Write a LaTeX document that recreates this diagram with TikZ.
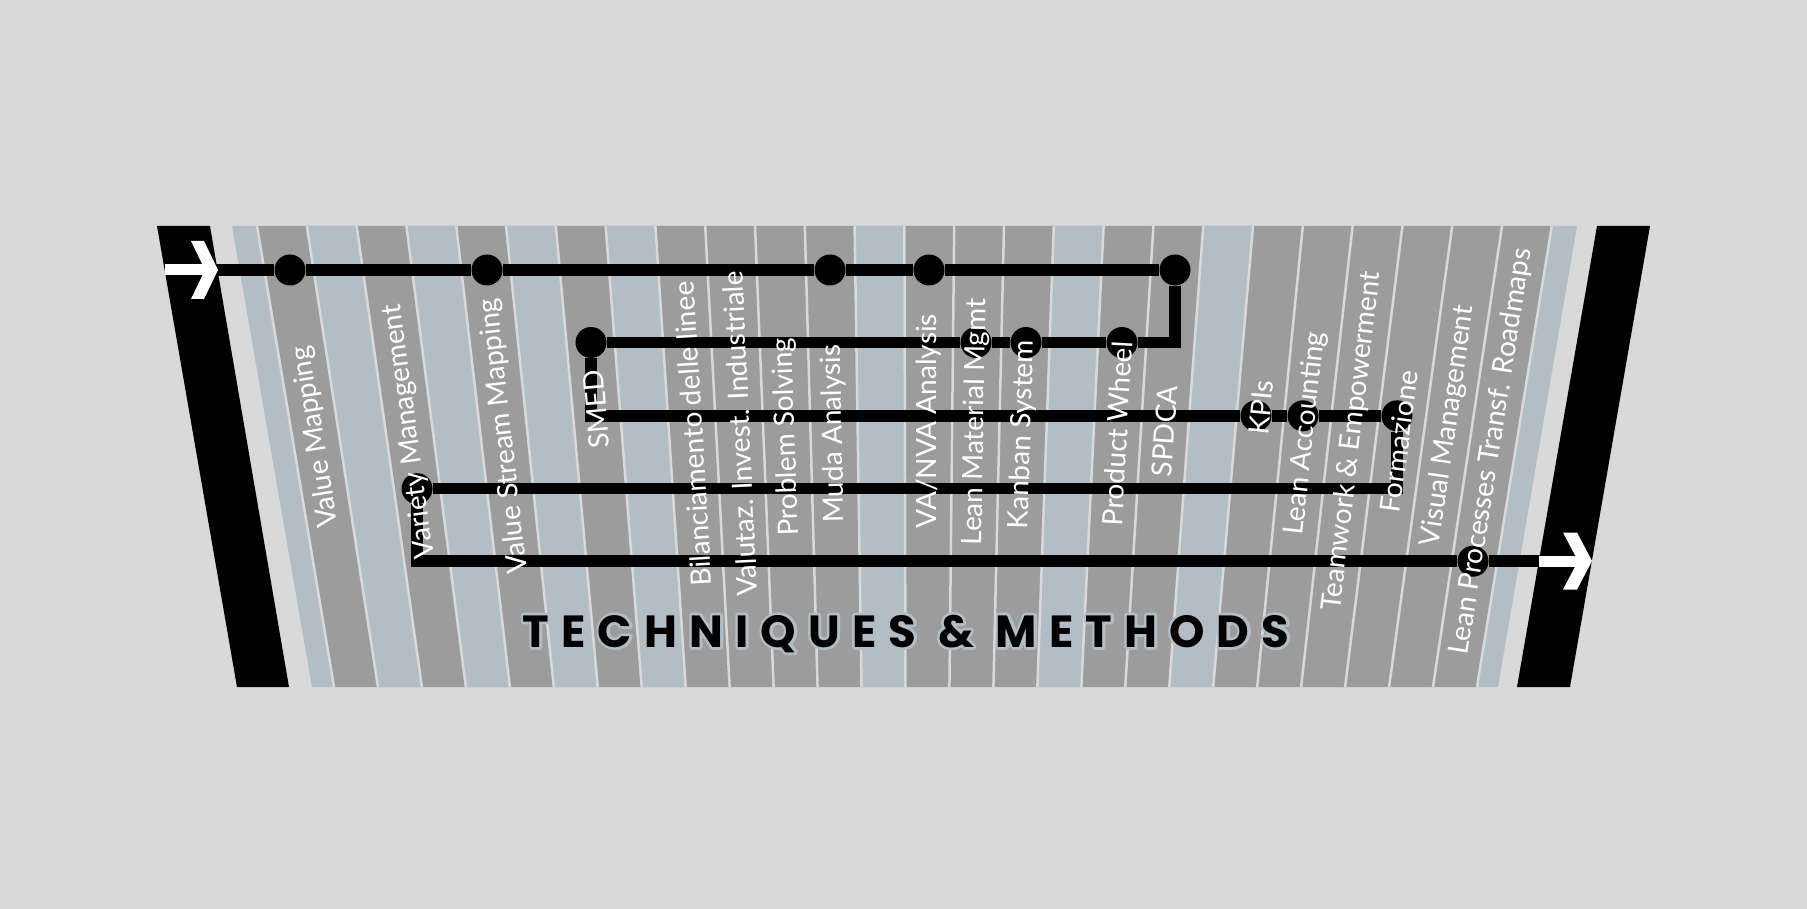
\documentclass[tikz,border=0pt]{standalone}
\usepackage{fontspec}
\newfontfamily\lblfont{Lato}
\newfontfamily\ttlfont{Poppins}[LetterSpace=27]
\definecolor{bggray}{HTML}{D9D9D9}
\definecolor{stripegray}{HTML}{9C9C9C}
\definecolor{stripeblue}{HTML}{B2BDC4}
% light halo behind the title letters
\newcommand{\halotext}[1]{\rlap{\textcolor{stripeblue}{%
  \special{pdf:literal direct 2 Tr 5.5 w 1 j}#1\special{pdf:literal direct 0 Tr 1 w 0 j}}}#1}
\tikzset{%
  station/.style  = {circle, fill=black, inner sep=0pt, minimum size=31pt},%
  metro/.style    = {line width=11.5pt, black},%
  stripelbl/.style = {text=white, inner sep=0pt,%
                      font=\lblfont\fontsize{28}{28}\selectfont},%
  divider/.style  = {line width=2.5pt, bggray},%
  declare function = {topx(\k)=257+49.8*\k; botx(\k)=334+43.96*\k;}%
}
\begin{document}
\begin{tikzpicture}[x=1pt,y=-1pt]
	\fill[bggray] (0,0) rectangle (1807,909);
	\useasboundingbox (0,0) rectangle (1807,909);
	% stripes
	\fill[stripeblue] (232,226) -- (257,226) -- (334,687) -- (312,687) -- cycle;
	\fill[stripeblue] (1552,226) -- (1577,226) -- (1498,687) -- (1477,687) -- cycle;
	\fill[stripegray] (257,226) -- (1552,226) -- (1477,687) -- (334,687) -- cycle;
	\foreach \k in {1,3,5,7,12,16,19}
		\fill[stripeblue] ({topx(\k)},226) -- ({topx(\k+1)},226)
			-- ({botx(\k+1)},687) -- ({botx(\k)},687) -- cycle;
	\foreach \k in {0,...,26}
		\draw[divider] ({topx(\k)},226) -- ({botx(\k)},687);
	% bars
	\fill (157,226) -- (210,226) -- (289,687) -- (237,687) -- cycle;
	\fill (1597,226) -- (1650,226) -- (1570,687) -- (1517,687) -- cycle;
	% stations
	\node[station] (vm)       at (290,270) {};
	\node[station] (vsm)      at (487,270) {};
	\node[station] (muda)     at (830,270) {};
	\node[station] (vanva)    at (929,270) {};
	\node[station] (spdca)    at (1175,270) {};
	\node[station] (smed)     at (591,342.5) {};
	\node[station] (lmm)      at (976,342.5) {};
	\node[station] (kanban)   at (1026,342.5) {};
	\node[station] (pw)       at (1122,342.5) {};
	\node[station] (kpis)     at (1256,415.8) {};
	\node[station] (leanacc)  at (1303,415.8) {};
	\node[station] (formaz)   at (1397,415.8) {};
	\node[station] (variety)  at (417,488.7) {};
	\node[station] (leanproc) at (1473,561.2) {};
	\coordinate (in)  at (200,270);
	\coordinate (out) at (1545,561.2);
	\draw[metro] (in) -- (vm) -- (vsm) -- (muda) -- (vanva) -- (spdca)
		|- (pw) -- (kanban) -- (lmm) -- (smed)
		|- (kpis) -- (leanacc) -- (formaz)
		|- (variety) |- (leanproc) -- (out);
	% arrows on the bars
	\fill[white] (165,264.5) rectangle (207,275.5);
	\fill[white] (191,241) -- (204,241) -- (218,270) -- (204,299) -- (191,299) -- (205,270) -- cycle;
	\fill[white] (1539,555.5) rectangle (1580,566.9);
	\fill[white] (1563,532.5) -- (1577,532.5) -- (1592,561) -- (1577,589.5) -- (1563,589.5) -- (1578,561) -- cycle;
	% labels
	\foreach \k/\y/\t [count=\i] in {0/437/Value Mapping, 2/431.5/Variety Management,
		4/436/Value Stream Mapping, 6/409.5/SMED, 8/434/Bilanciamento delle linee,
		9/433.5/Valutaz. Invest. Industriale, 10/437/Problem Solving, 11/434/Muda Analysis,
		13/421/{VA/NVA Analysis}, 14/422/Lean Material Mgmt, 15/434.5/Kanban System,
		17/433.5/Product Wheel, 18/431/SPDCA, 20/407.5/KPIs, 21/433.5/Lean Accounting,
		22/441/Teamwork \& Empowerment, 23/441.5/Formazione, 24/426/Visual Management,
		25/451.5/Lean Processes Transf. Roadmaps}{
		\pgfmathsetmacro\cx{topx(\k+.5)+(77-5.84*(\k+.5))*(\y-226)/461}
		\pgfmathsetmacro\ang{90+atan((77-5.84*(\k+.5))/461)}
		\node[stripelbl, rotate=\ang] (lbl\i) at (\cx,\y) {\t};
	}
	\node[anchor=base] (title) at (906,647)
		{\ttlfont\bfseries\fontsize{45}{45}\selectfont\halotext{TECHNIQUES \& METHODS}};
\end{tikzpicture}
\end{document}
